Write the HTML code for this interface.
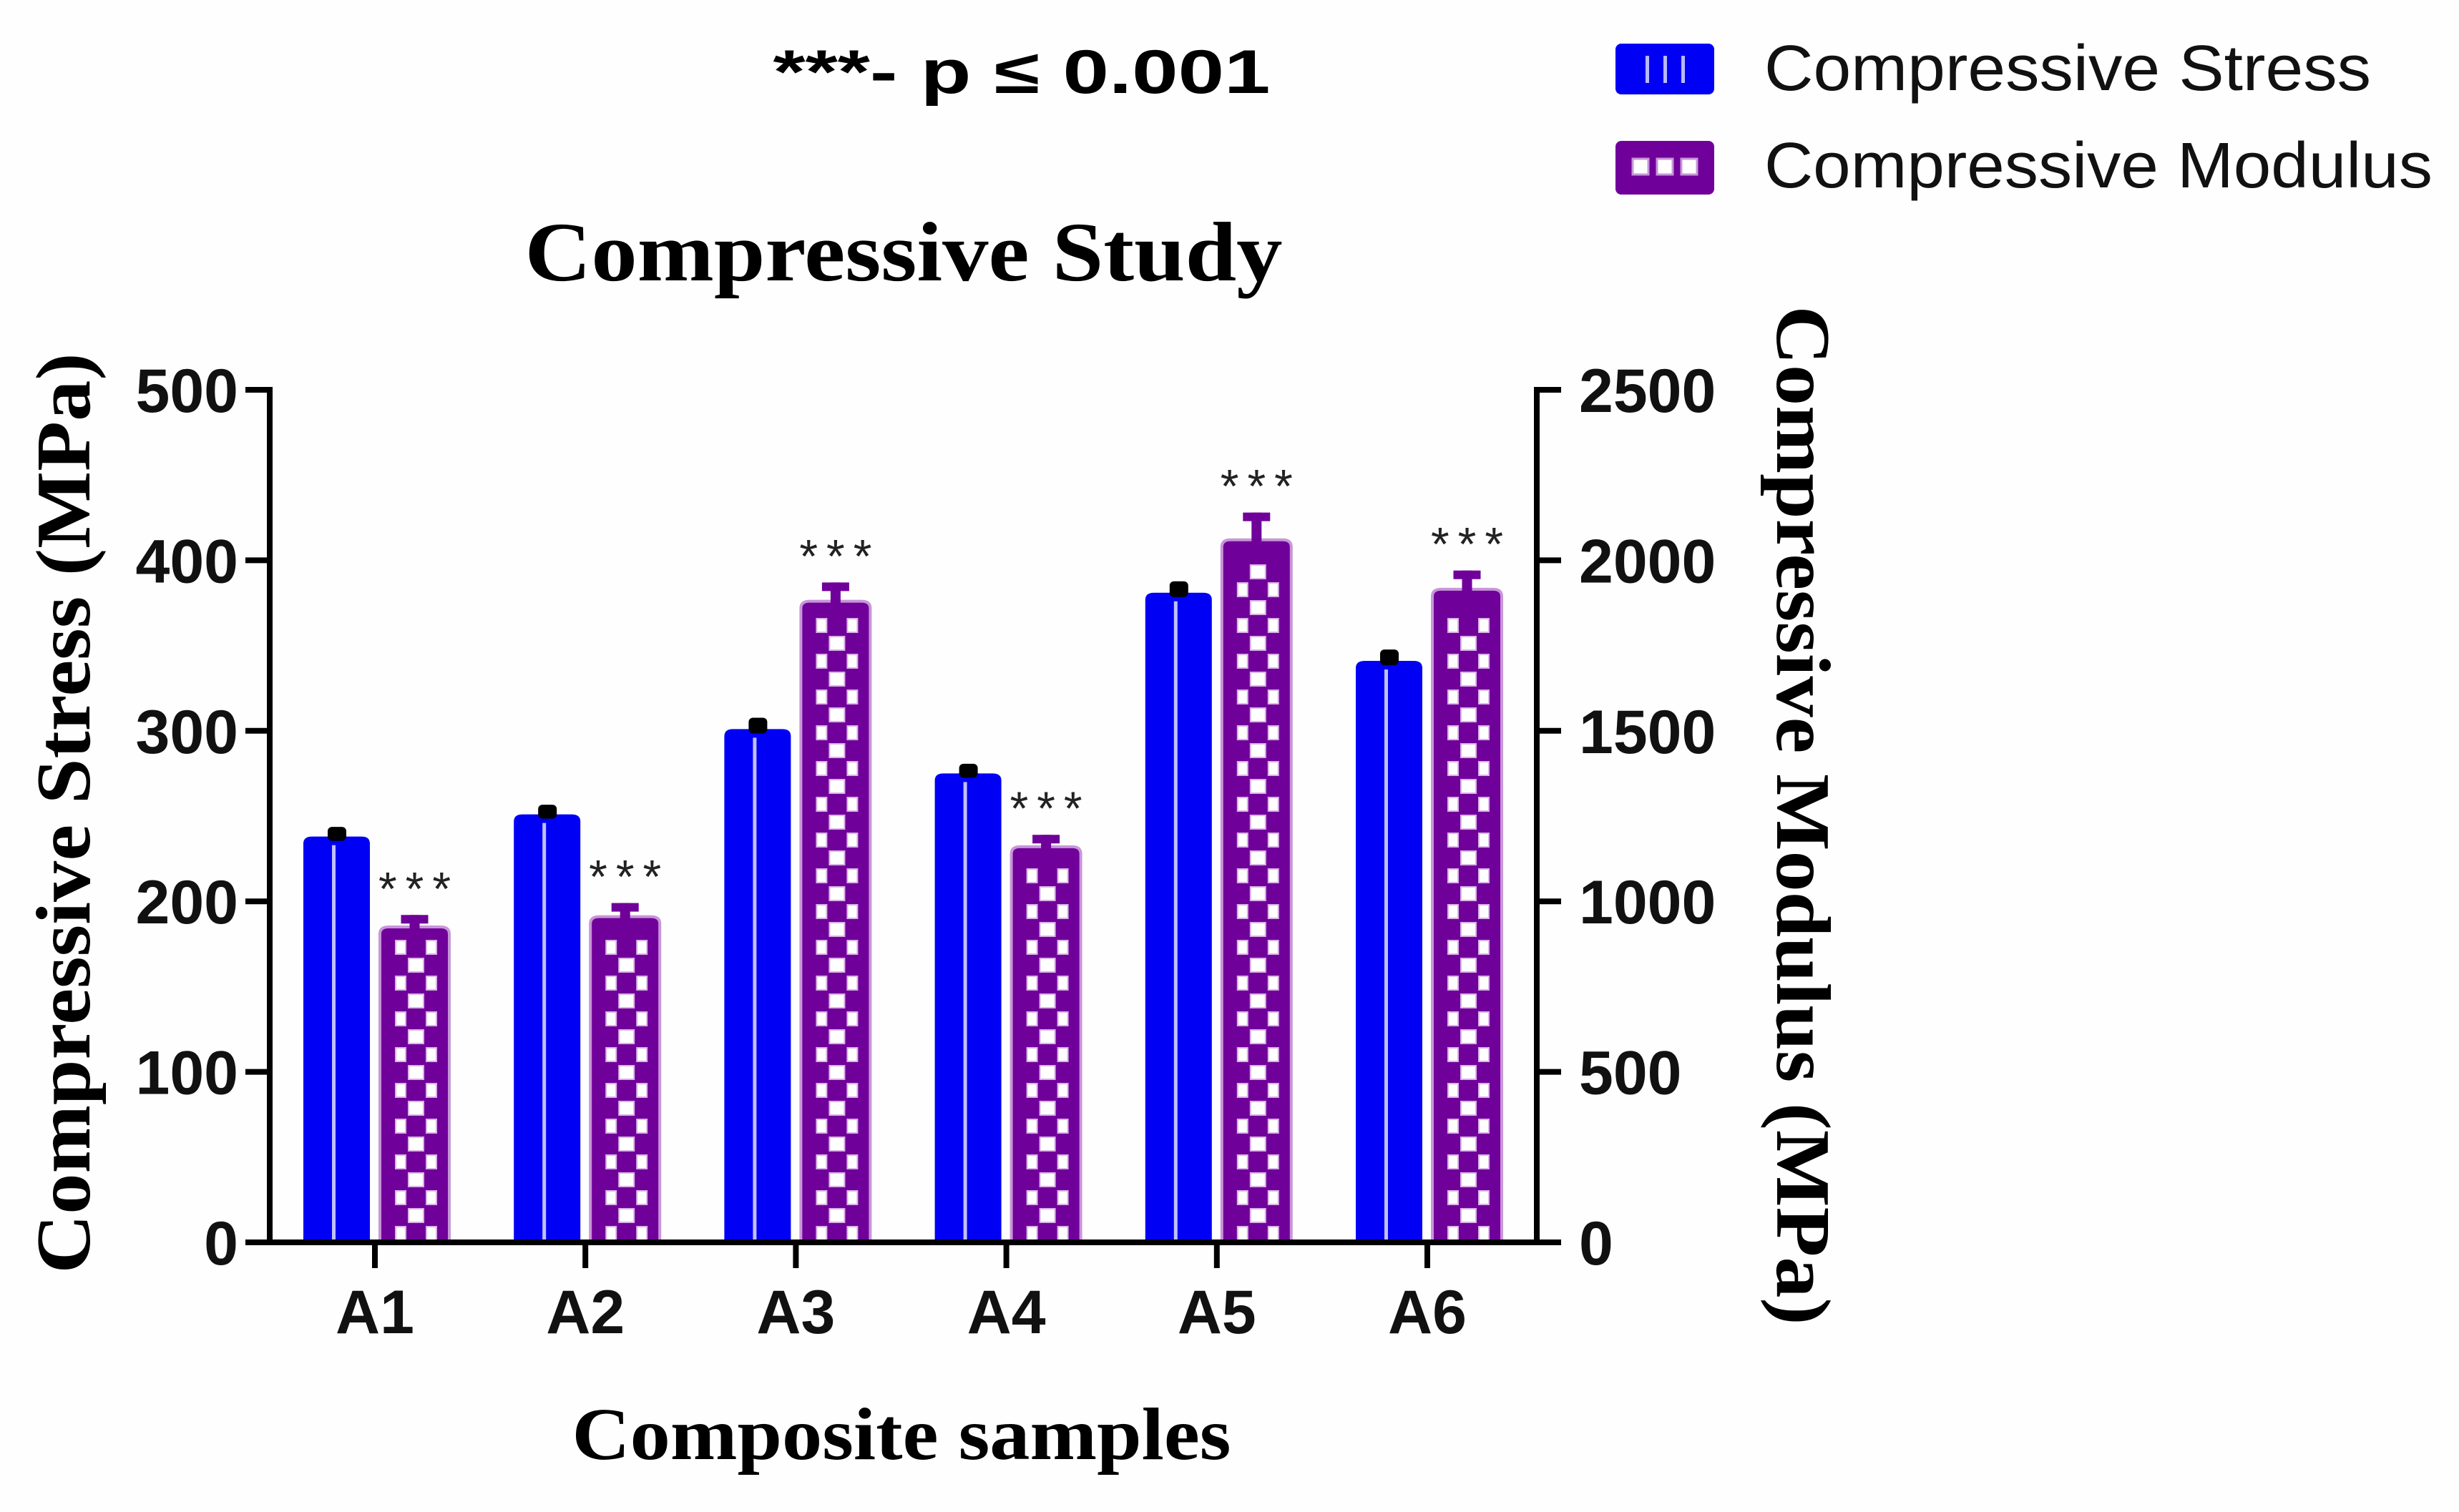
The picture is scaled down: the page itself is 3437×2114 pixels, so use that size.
<!DOCTYPE html>
<html><head><meta charset="utf-8"><style>
html,body{margin:0;padding:0;background:#fff;}
svg{display:block;}
</style></head><body>
<svg id="chart" width="3437" height="2114" viewBox="0 0 3437 2114" xmlns="http://www.w3.org/2000/svg">
<rect width="3437" height="2114" fill="#fefefe"/>
<g id="plot"></g>
<text x="1428" y="130" text-anchor="middle" font-family="Liberation Sans, sans-serif" font-weight="bold" font-size="86" fill="#000" textLength="695" lengthAdjust="spacingAndGlyphs">***- p ≤ 0.001</text>
<text x="1263" y="392" text-anchor="middle" font-family="Liberation Serif, serif" font-weight="bold" font-size="118" fill="#000" textLength="1059" lengthAdjust="spacingAndGlyphs">Compressive Study</text>
<text x="1260" y="2040" text-anchor="middle" font-family="Liberation Serif, serif" font-weight="bold" font-size="104" fill="#000" textLength="921" lengthAdjust="spacingAndGlyphs">Composite samples</text>
<text transform="translate(125,1137) rotate(-90)" text-anchor="middle" font-family="Liberation Serif, serif" font-weight="bold" font-size="108" fill="#000" textLength="1287" lengthAdjust="spacingAndGlyphs">Compressive Stress (MPa)</text>
<text transform="translate(2484,1140) rotate(90)" text-anchor="middle" font-family="Liberation Serif, serif" font-weight="bold" font-size="108" fill="#000" textLength="1425" lengthAdjust="spacingAndGlyphs">Compressive Modulus (MPa)</text>
<g>
  <g>
    <rect x="2258" y="61" width="138" height="71" rx="8" fill="#0000f5"/>
    <rect x="2300" y="78" width="5" height="38" fill="#b8b8ff"/>
    <rect x="2325" y="78" width="5" height="38" fill="#b8b8ff"/>
    <rect x="2350" y="78" width="5" height="38" fill="#b8b8ff"/>
    <text x="2466" y="126" font-family="Liberation Sans, sans-serif" font-size="90" fill="#111" textLength="848" lengthAdjust="spacingAndGlyphs">Compressive Stress</text>
  </g>
  <g>
    <rect x="2258" y="197" width="138" height="75" rx="8" fill="#70009a"/>
    <rect x="2282" y="222" width="22" height="22" fill="#fff" stroke="#c796d8" stroke-width="3"/>
    <rect x="2316" y="222" width="22" height="22" fill="#fff" stroke="#c796d8" stroke-width="3"/>
    <rect x="2350" y="222" width="22" height="22" fill="#fff" stroke="#c796d8" stroke-width="3"/>
    <text x="2466" y="262" font-family="Liberation Sans, sans-serif" font-size="90" fill="#111" textLength="934" lengthAdjust="spacingAndGlyphs">Compressive Modulus</text>
  </g>
</g>
</svg>
<script>
const categories = ["A1","A2","A3","A4","A5","A6"];
const stressValues = [238, 251, 301, 275, 381, 341];
const stressErrors = [4, 4, 5, 4, 5, 5];
const modulusValues = [925, 955, 1880, 1160, 2060, 1915];
const modulusErrors = [35, 40, 55, 35, 80, 55];
const leftTicks = [0, 100, 200, 300, 400, 500];
const rightTicks = [0, 500, 1000, 1500, 2000, 2500];
const sigLabels = ["***","***","***","***","***","***"];

const NS = "http://www.w3.org/2000/svg";
const g = document.getElementById("plot");
const X0 = 377, X1 = 2148, Y0 = 1737, YT = 545;
const yL = v => Y0 - v / 500 * (Y0 - YT);
const yR = v => Y0 - v / 2500 * (Y0 - YT);
const xC = i => 524 + i * 294.2;
function el(tag, attrs, parent) {
  const e = document.createElementNS(NS, tag);
  for (const k in attrs) e.setAttribute(k, attrs[k]);
  (parent || g).appendChild(e);
  return e;
}

categories.forEach((c, i) => {
  const cx = xC(i);
  const bt = yL(stressValues[i]);
  const b = el("path", {d: `M${cx-100},${Y0} V${bt+10} Q${cx-100},${bt} ${cx-88},${bt} H${cx-19} Q${cx-7},${bt} ${cx-7},${bt+10} V${Y0} Z`, fill: "#0000f5"});
  
  
  el("rect", {x: cx - 60, y: bt + 12, width: 5, height: Y0 - bt - 12, fill: "#c0c0ff"});
  const et = yL(stressValues[i] + stressErrors[i]);
  const se = el("rect", {x: cx - 66, y: et - 4, width: 26, height: bt - et + 10, rx: 6, fill: "#000"});
  
  

  const mt = yR(modulusValues[i]);
  const mx = cx + 7, mw = 97;
  const mb = el("path", {d: `M${mx},${Y0} V${mt+10} Q${mx},${mt} ${mx+12},${mt} H${mx+mw-12} Q${mx+mw},${mt} ${mx+mw},${mt+10} V${Y0} Z`, fill: "#70009a", stroke: "#c796d8", "stroke-width": 4});
  
  
  const cols = [mx + 20, mx + 38, mx + 63];
  const cw = [18, 25, 18];
  let row = 0;
  for (let y = Y0 - 25; y > mt + 14; y -= 25, row++) {
    for (let k = 0; k < 3; k++) {
      if ((row + k) % 2 === 0) el("rect", {x: cols[k] + 2, y: y + 3, width: cw[k] - 4, height: 19, fill: "#fff", stroke: "#d9b3e6", "stroke-width": 2});
    }
  }
  const met = yR(modulusValues[i] + modulusErrors[i]);
  const me = el("g", {});
  
  
  el("rect", {x: mx + mw / 2 - 7, y: met, width: 14, height: mt - met + 4, fill: "#70009a"}, me);
  el("rect", {x: mx + mw / 2 - 19, y: met, width: 38, height: 12, fill: "#70009a"}, me);
  const st = el("text", {x: mx + mw / 2 + 6, y: met - 14, "text-anchor": "middle", "font-family": "Liberation Sans, sans-serif", "font-size": 66, fill: "#222", "letter-spacing": 12});
  st.textContent = sigLabels[i];
  
  
});

const ax = el("g", {stroke: "#000", "stroke-width": 8, fill: "none"});


el("line", {x1: X0, y1: YT - 4, x2: X0, y2: Y0 + 4}, ax);
el("line", {x1: X1, y1: YT - 4, x2: X1, y2: Y0 + 4}, ax);
el("line", {x1: 343, y1: Y0, x2: X1 + 4, y2: Y0}, ax);
leftTicks.forEach(v => {
  el("line", {x1: 343, y1: yL(v), x2: X0, y2: yL(v)}, ax);
  const t = el("text", {x: 333, y: yL(v) + 31, "text-anchor": "end", "font-family": "Liberation Sans, sans-serif", "font-weight": "bold", "font-size": 86, fill: "#111"});
  t.textContent = v;
  
  
});
rightTicks.forEach(v => {
  el("line", {x1: X1, y1: yR(v), x2: X1 + 34, y2: yR(v)}, ax);
  const t = el("text", {x: 2207, y: yR(v) + 31, "font-family": "Liberation Sans, sans-serif", "font-weight": "bold", "font-size": 86, fill: "#111"});
  t.textContent = v;
  
  
});
categories.forEach((c, i) => {
  el("line", {x1: xC(i), y1: Y0, x2: xC(i), y2: Y0 + 36}, ax);
  const t = el("text", {x: xC(i), y: 1864, "text-anchor": "middle", "font-family": "Liberation Sans, sans-serif", "font-weight": "bold", "font-size": 86, fill: "#111"});
  t.textContent = c;
  
  
});
</script>
</body></html>
